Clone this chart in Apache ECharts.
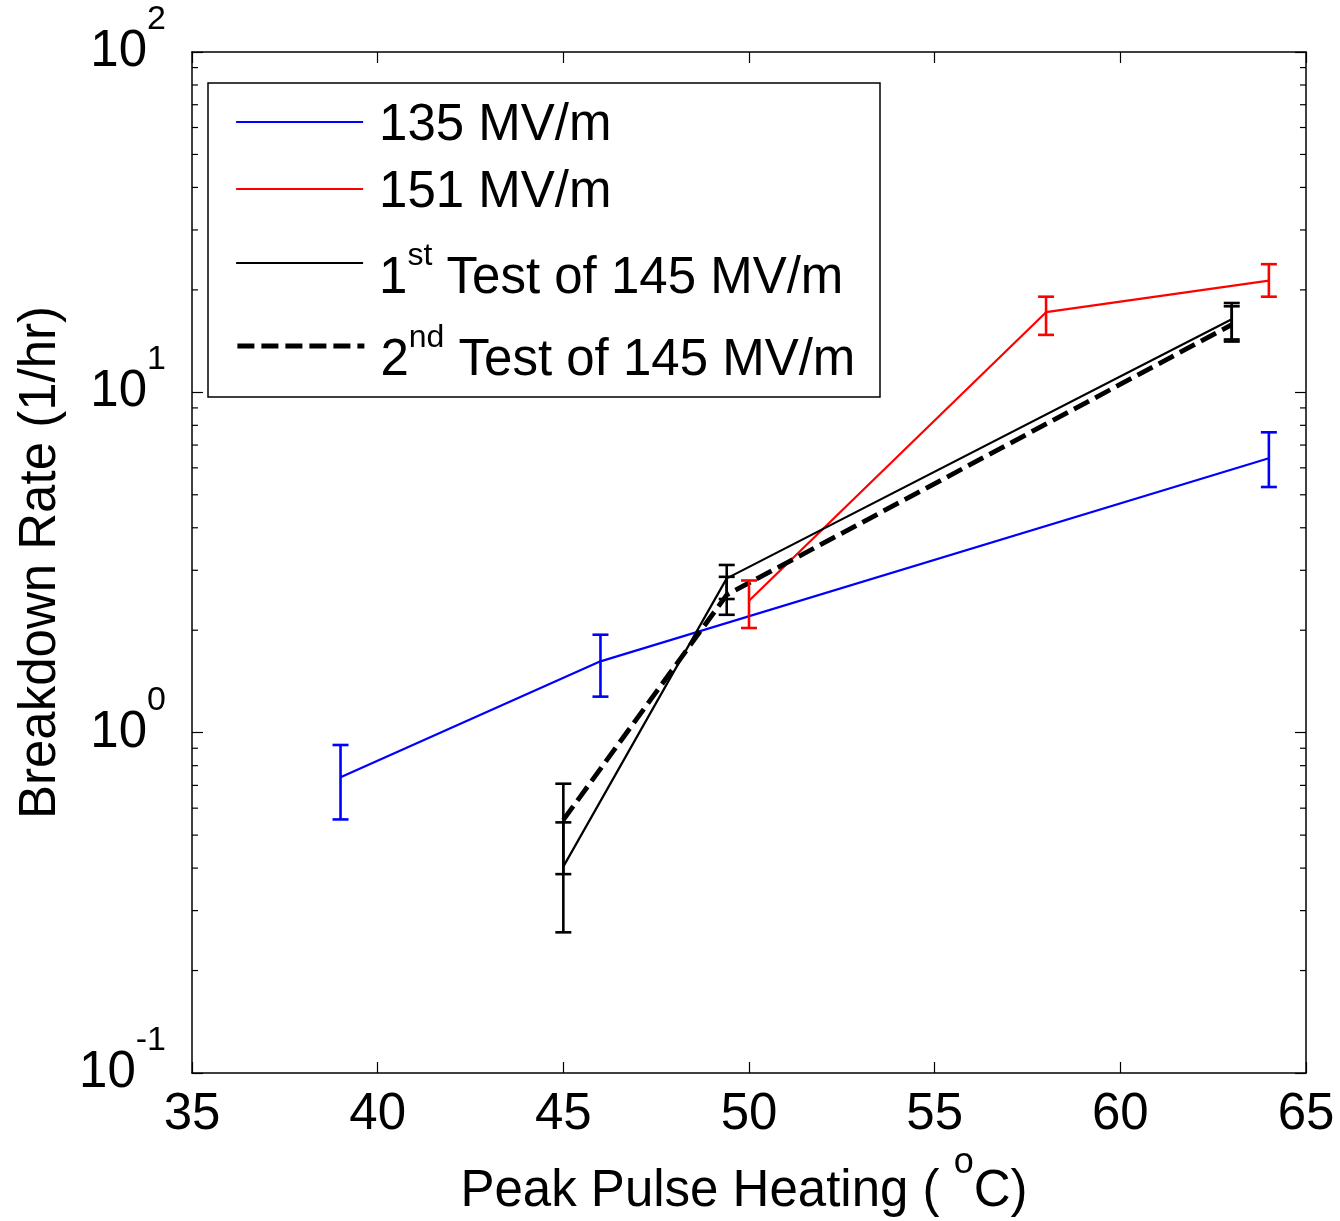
<!DOCTYPE html>
<html>
<head>
<meta charset="utf-8">
<script src="https://cdn.jsdelivr.net/npm/echarts@6/dist/echarts.min.js"></script>
<style>
html,body{margin:0;padding:0;background:#fff;}
#chart{width:1340px;height:1221px;}
</style>
</head>
<body>
<div id="chart"></div>
<script>
// ---- data ----
const blueX = [39, 46, 64];
const blueY = [0.74, 1.62, 6.4];
const blueLo = [0.556, 1.276, 5.27];
const blueHi = [0.92, 1.94, 7.63];

const redX = [50, 58, 64];
const redY = [2.44, 17.2, 21.3];
const redLo = [2.03, 14.75, 19.1];
const redHi = [2.80, 19.1, 23.8];

const test1X = [45, 49.4, 63];
const test1Y = [0.404, 2.84, 16.4];
const test1Lo = [0.259, 2.47, 14.3];
const test1Hi = [0.545, 3.11, 18.3];

const test2X = [45, 49.4, 63];
const test2Y = [0.554, 2.54, 15.8];
const test2Lo = [0.384, 2.22, 14.1];
const test2Hi = [0.708, 2.87, 17.9];

const seriesNames = ['135 MV/m', '151 MV/m', '1st Test of 145 MV/m', '2nd Test of 145 MV/m'];
const xTicks = [35, 40, 45, 50, 55, 60, 65];
const yMajor = [0.1, 1, 10, 100];
const yMinor = [0.2, 0.3, 0.4, 0.5, 0.6, 0.7, 0.8, 0.9,
                2, 3, 4, 5, 6, 7, 8, 9,
                20, 30, 40, 50, 60, 70, 80, 90];

const X_MIN = 35, X_MAX = 65, Y_MIN = 0.1, Y_MAX = 100;
const FONT = '"Liberation Sans", Arial, Helvetica, sans-serif';
const FS = 51;

function zip(a, b) { return a.map((v, i) => [v, b[i]]); }
function zip3(a, b, c) { return a.map((v, i) => [v, b[i], c[i]]); }

function errRender(color) {
  return function (params, api) {
    const x = api.value(0), lo = api.value(1), hi = api.value(2);
    const pLo = api.coord([x, lo]), pHi = api.coord([x, hi]);
    const hw = 8;
    const style = { stroke: color, lineWidth: 2.6, fill: null };
    return {
      type: 'group', children: [
        { type: 'line', shape: { x1: pLo[0], y1: pLo[1], x2: pHi[0], y2: pHi[1] }, style: style },
        { type: 'line', shape: { x1: pLo[0] - hw, y1: pLo[1], x2: pLo[0] + hw, y2: pLo[1] }, style: style },
        { type: 'line', shape: { x1: pHi[0] - hw, y1: pHi[1], x2: pHi[0] + hw, y2: pHi[1] }, style: style }
      ]
    };
  };
}

function minorRender(params, api) {
  const v = api.value(1);
  const pl = api.coord([X_MIN, v]);
  const pr = api.coord([X_MAX, v]);
  const style = { stroke: '#000', lineWidth: 1.2 };
  return {
    type: 'group', children: [
      { type: 'line', shape: { x1: pl[0], y1: pl[1], x2: pl[0] + 6, y2: pl[1] }, style: style },
      { type: 'line', shape: { x1: pr[0] - 6, y1: pr[1], x2: pr[0], y2: pr[1] }, style: style }
    ]
  };
}

const chart = echarts.init(document.getElementById('chart'), null, { renderer: 'canvas' });

function tok(fs, pad, extra) {
  return Object.assign({ fontSize: fs, height: fs, fontFamily: FONT, color: '#000', padding: pad }, extra || {});
}
const baseRich = { t: tok(FS, [7, 0, 0, 0]) };
const supRich3 = { t: tok(FS, [36, 0, 5, 0]), s: tok(32, [23, 0, 0, 0], { verticalAlign: 'top' }) };
const supRich4 = { t: tok(FS, [36, 0, 7, 0]), s: tok(32, [23, 0, 0, 0], { verticalAlign: 'top' }) };
const legendLabels = [
  '{t|135 MV/m}',
  '{t|151 MV/m}',
  '{t|1}{s|st}{t| Test of 145 MV/m}',
  '{t|2}{s|nd}{t| Test of 145 MV/m}'
];
const legendTops = [100, 167, 240, 322];
const legendRich = [baseRich, baseRich, supRich3, supRich4];

const legends = seriesNames.map((n, i) => ({
  data: [n],
  left: 235,
  top: legendTops[i],
  padding: 0,
  itemWidth: 127,
  itemHeight: 14,
  selectedMode: false,
  itemStyle: { opacity: 0 },
  lineStyle: { width: 'inherit' },
  formatter: function () { return legendLabels[i]; },
  textStyle: { padding: [0, 0, 0, 11], rich: legendRich[i] }
}));

const yLabelRich = {
  b: tok(FS, [24, 0, 24, 0]),
  s: tok(34, [0, 0, 0, 0], { verticalAlign: 'top' })
};

const option = {
  backgroundColor: '#fff',
  animation: false,
  textStyle: { fontFamily: FONT },
  grid: { left: 192, right: 34, top: 52, bottom: 148, containLabel: false, outerBoundsMode: 'none' },
  legend: legends,
  graphic: [{
    type: 'rect',
    shape: { x: 208, y: 83, width: 672, height: 314 },
    style: { fill: '#fff', stroke: '#000', lineWidth: 1.5 },
    z: 3
  }],
  xAxis: [{
    type: 'value', min: X_MIN, max: X_MAX, interval: 5,
    position: 'bottom',
    name: '{t|Peak Pulse Heating ( }{s|o}{t|C)}',
    nameLocation: 'middle', nameGap: 66,
    nameTextStyle: {
      padding: [0, 10, 0, 0],
      rich: {
        t: tok(FS, [22, 0, 22, 0]),
        s: tok(36, [0, 0, 0, 0], { verticalAlign: 'top' })
      }
    },
    axisLine: { show: true, onZero: false, lineStyle: { color: '#000', width: 1.5 } },
    axisTick: { show: true, inside: true, length: 11, lineStyle: { color: '#000', width: 1.2 } },
    axisLabel: { show: true, fontSize: FS, color: '#000', fontFamily: FONT, margin: 16,
      formatter: function (v) { return xTicks.indexOf(v) >= 0 ? String(v) : ''; } },
    splitLine: { show: false }
  }, {
    type: 'value', min: X_MIN, max: X_MAX, interval: 5,
    position: 'top',
    axisLine: { show: true, onZero: false, lineStyle: { color: '#000', width: 1.5 } },
    axisTick: { show: true, inside: true, length: 11, lineStyle: { color: '#000', width: 1.2 } },
    axisLabel: { show: false },
    splitLine: { show: false }
  }],
  yAxis: [{
    type: 'log', logBase: 10, min: Y_MIN, max: Y_MAX,
    position: 'left',
    name: 'Breakdown Rate (1/hr)',
    nameLocation: 'middle', nameGap: 126,
    nameTextStyle: { fontSize: FS, color: '#000', fontFamily: FONT },
    axisLine: { show: true, onZero: false, lineStyle: { color: '#000', width: 1.5 } },
    axisTick: { show: true, inside: true, length: 11, lineStyle: { color: '#000', width: 1.2 } },
    axisLabel: {
      show: true, margin: 26,
      formatter: function (v) {
        const e = Math.round(Math.log10(v));
        return '{b|10}{s|' + e + '}';
      },
      rich: yLabelRich
    },
    splitLine: { show: false }
  }, {
    type: 'log', logBase: 10, min: Y_MIN, max: Y_MAX,
    position: 'right',
    axisLine: { show: true, onZero: false, lineStyle: { color: '#000', width: 1.5 } },
    axisTick: { show: true, inside: true, length: 11, lineStyle: { color: '#000', width: 1.2 } },
    axisLabel: { show: false },
    splitLine: { show: false }
  }],
  series: [
    {
      type: 'custom', name: 'minor', silent: true,
      renderItem: minorRender,
      data: yMinor.map(v => [X_MIN, v]),
      encode: { x: 0, y: 1 }, z: 1
    },
    {
      type: 'line', name: seriesNames[0], data: zip(blueX, blueY),
      symbol: 'none', color: '#0000ff',
      lineStyle: { color: '#0000ff', width: 2.2 }, z: 3
    },
    {
      type: 'line', name: seriesNames[1], data: zip(redX, redY),
      symbol: 'none', color: '#ff0000',
      lineStyle: { color: '#ff0000', width: 2.2 }, z: 3
    },
    {
      type: 'line', name: seriesNames[2], data: zip(test1X, test1Y),
      symbol: 'none', color: '#000000',
      lineStyle: { color: '#000000', width: 2.2 }, z: 3
    },
    {
      type: 'line', name: seriesNames[3], data: zip(test2X, test2Y),
      symbol: 'none', color: '#000000',
      lineStyle: { color: '#000000', width: 4.8, type: [17, 7] }, z: 4
    },
    {
      type: 'custom', name: 'err135', renderItem: errRender('#0000ff'),
      data: zip3(blueX, blueLo, blueHi), encode: { x: 0, y: [1, 2] }, z: 5
    },
    {
      type: 'custom', name: 'err151', renderItem: errRender('#ff0000'),
      data: zip3(redX, redLo, redHi), encode: { x: 0, y: [1, 2] }, z: 5
    },
    {
      type: 'custom', name: 'errT1', renderItem: errRender('#000000'),
      data: zip3(test1X, test1Lo, test1Hi), encode: { x: 0, y: [1, 2] }, z: 5
    },
    {
      type: 'custom', name: 'errT2', renderItem: errRender('#000000'),
      data: zip3(test2X, test2Lo, test2Hi), encode: { x: 0, y: [1, 2] }, z: 5
    }
  ]
};

chart.setOption(option);
</script>
</body>
</html>
